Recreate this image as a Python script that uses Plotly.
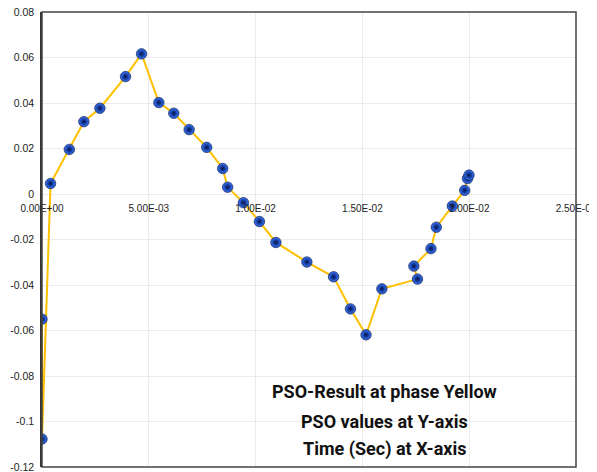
import plotly.graph_objects as go

# Time (s) and PSO values
time_s = [0.0, 0.0, 0.00040, 0.00128, 0.00196, 0.00271, 0.00391, 0.00466,
          0.00547, 0.00617, 0.00689, 0.00771, 0.00846, 0.00869, 0.00943,
          0.01018, 0.01095, 0.01240, 0.01365, 0.01444, 0.01517, 0.01591,
          0.01758, 0.01741, 0.01821, 0.01846, 0.01921, 0.01979, 0.01992, 0.01999]
pso_vals = [-0.0550, -0.1077, 0.0046, 0.0196, 0.0318, 0.0377, 0.0516, 0.0616,
            0.0402, 0.0355, 0.0283, 0.0205, 0.0112, 0.0030, -0.0038,
            -0.0121, -0.0213, -0.0299, -0.0364, -0.0505, -0.0619, -0.0417,
            -0.0374, -0.0317, -0.0240, -0.0146, -0.0053, 0.0016, 0.0068, 0.0083]

x_tick_vals = [0.0, 0.005, 0.010, 0.015, 0.020, 0.025]
x_tick_text = ["0.00E+00", "5.00E-03", "1.00E-02", "1.50E-02", "2.00E-02", "2.50E-02"]
y_tick_vals = [0.08, 0.06, 0.04, 0.02, 0.0, -0.02, -0.04, -0.06, -0.08, -0.1, -0.12]
y_tick_text = ["0.08", "0.06", "0.04", "0.02", "0", "-0.02", "-0.04", "-0.06", "-0.08", "-0.1", "-0.12"]

notes = ["PSO-Result at phase Yellow", "PSO values at Y-axis", "Time (Sec) at X-axis"]

fig = go.Figure()
fig.add_trace(go.Scatter(
    x=time_s, y=pso_vals, mode="lines+markers",
    line=dict(color="#FFC000", width=2),
    marker=dict(size=10.5, color="#3a78ff",
                gradient=dict(type="radial", color="#00104d"),
                line=dict(color="#000a33", width=0.6)),
    showlegend=False,
))

# page body has an 8px margin: figure is shifted by 8px, so size/margins are compensated
fig.update_layout(
    width=589, height=464,
    margin=dict(l=34, r=21, t=4, b=5, autoexpand=False),
    paper_bgcolor="white", plot_bgcolor="white",
    font=dict(family="Liberation Sans, Arial, sans-serif", size=11, color="#222222"),
    xaxis=dict(range=[0, 0.025], tickvals=x_tick_vals, ticktext=x_tick_text,
               showgrid=True, gridcolor="#ebebeb", gridwidth=1,
               zeroline=False, showline=False, ticks="", automargin=False,
               anchor="free", position=(467 - 192) / 455, side="bottom",
               ticklabelstandoff=9, ticklabeloverflow="allow",
               tickfont=dict(size=10, color="#222222")),
    yaxis=dict(range=[-0.12, 0.08], tickvals=y_tick_vals, ticktext=y_tick_text,
               showgrid=True, gridcolor="#ebebeb", gridwidth=1, automargin=False,
               zeroline=False, showline=True, linecolor="#333333", linewidth=1.5,
               ticks="", ticklabelstandoff=4, ticklabeloverflow="allow",
               tickfont=dict(size=10.5, color="#222222")),
    shapes=[dict(type="rect", xref="paper", yref="paper", x0=0, x1=1, y0=0, y1=1,
                 line=dict(color="#444444", width=1.5), layer="above")],
)

ys = [0.165, 0.101, 0.0396]
for txt, yy in zip(notes, ys):
    fig.add_annotation(text="<b>" + txt + "</b>", xref="paper", yref="paper",
                       x=0.642, y=yy, xanchor="center", yanchor="middle",
                       showarrow=False,
                       font=dict(family="Roboto, sans-serif", size=18, color="#111111"))

fig.write_html("out.html")
